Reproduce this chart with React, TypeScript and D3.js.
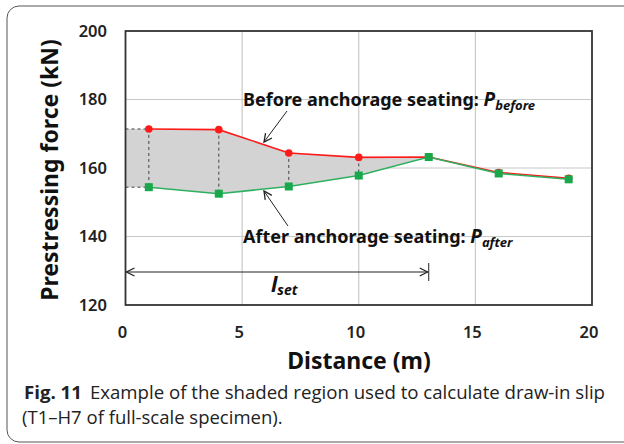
import React, { useEffect, useRef } from "react";
import * as d3 from "d3";

const distance = [1, 4, 7, 10, 13, 16, 19];
const before = [171.4, 171.2, 164.4, 163.1, 163.2, 158.7, 157.0];
const after = [154.4, 152.5, 154.6, 157.8, 163.2, 158.4, 156.7];
const xTicks = [0, 5, 10, 15, 20];
const yTicks = [120, 140, 160, 180, 200];
const lSet = 13;

export default function App() {
  const ref = useRef<SVGSVGElement>(null);

  useEffect(() => {
    const svg = d3.select(ref.current);
    svg.selectAll("*").remove();

    const x = d3.scaleLinear().domain([0, 20]).range([125.5, 592]);
    const y = d3.scaleLinear().domain([120, 200]).range([305, 31]);
    const font = "'Noto Sans', sans-serif";

    // outer frame
    svg.append("rect").attr("x", 7).attr("y", 6).attr("width", 640).attr("height", 436)
      .attr("rx", 12).attr("fill", "none").attr("stroke", "#555").attr("stroke-width", 1);

    const defs = svg.append("defs");
    defs.append("marker").attr("id", "arr").attr("viewBox", "0 0 10 10").attr("refX", 9).attr("refY", 5)
      .attr("markerWidth", 10).attr("markerHeight", 10).attr("orient", "auto-start-reverse")
      .attr("markerUnits", "userSpaceOnUse")
      .append("path").attr("d", "M1,1 L9,5 L1,9").attr("fill", "none").attr("stroke", "#222").attr("stroke-width", 1.3);

    // grid
    svg.append("g").selectAll("line").data(yTicks.slice(1, -1)).join("line")
      .attr("x1", x(0)).attr("x2", x(20)).attr("y1", d => y(d)).attr("y2", d => y(d))
      .attr("stroke", "#c8c8c8").attr("stroke-width", 1.2);
    svg.append("g").selectAll("line").data(xTicks.slice(1, -1)).join("line")
      .attr("y1", y(120)).attr("y2", y(200)).attr("x1", d => x(d)).attr("x2", d => x(d))
      .attr("stroke", "#c8c8c8").attr("stroke-width", 1.2);

    // shaded region between the two curves up to l_set
    const idx = distance.map((d, i) => i).filter(i => distance[i] <= lSet);
    const areaPts = [{ d: 0, b: before[0], a: after[0] }, ...idx.map(i => ({ d: distance[i], b: before[i], a: after[i] }))];
    svg.append("path").datum(areaPts)
      .attr("d", d3.area<any>().x(p => x(p.d)).y0(p => y(p.a)).y1(p => y(p.b)))
      .attr("fill", "#d3d3d3");

    // dashed guides
    const dash = svg.append("g").attr("stroke", "#444").attr("stroke-width", 1).attr("stroke-dasharray", "3,3");
    [before[0], after[0]].forEach(v => {
      dash.append("line").attr("x1", x(0)).attr("x2", x(distance[0])).attr("y1", y(v)).attr("y2", y(v));
    });
    idx.slice(0, -1).forEach(i => {
      dash.append("line").attr("x1", x(distance[i])).attr("x2", x(distance[i]))
        .attr("y1", y(before[i])).attr("y2", y(after[i]));
    });

    // lines
    const line = d3.line<number>().x((_, i) => x(distance[i])).y(v => y(v));
    svg.append("path").datum(before).attr("d", line).attr("fill", "none").attr("stroke", "#ff1a1a").attr("stroke-width", 1.6);
    svg.append("path").datum(after).attr("d", line).attr("fill", "none").attr("stroke", "#2fb060").attr("stroke-width", 1.6);
    svg.append("g").selectAll("circle").data(before).join("circle")
      .attr("cx", (_, i) => x(distance[i])).attr("cy", d => y(d)).attr("r", 3.8).attr("fill", "#ff1a1a");
    svg.append("g").selectAll("rect").data(after).join("rect")
      .attr("x", (_, i) => x(distance[i]) - 4).attr("y", d => y(d) - 4).attr("width", 8).attr("height", 8)
      .attr("fill", "#18a84c");

    // plot border
    svg.append("rect").attr("x", x(0)).attr("y", y(200)).attr("width", x(20) - x(0)).attr("height", y(120) - y(200))
      .attr("fill", "none").attr("stroke", "#333").attr("stroke-width", 1.8);

    // ticks
    svg.append("g").selectAll("text").data(yTicks).join("text")
      .attr("x", 107).attr("y", d => y(d)).attr("dy", "0.35em").attr("text-anchor", "end")
      .attr("font-family", font).attr("font-size", 16.5).attr("font-weight", 600).attr("fill", "#222")
      .text(d => d);
    svg.append("g").selectAll("text").data(xTicks).join("text")
      .attr("x", d => x(d) - 3).attr("y", 332).attr("dy", "0.35em").attr("text-anchor", "middle")
      .attr("font-family", font).attr("font-size", 16.5).attr("font-weight", 600).attr("fill", "#222")
      .text(d => d);

    // axis titles
    svg.append("text").attr("x", 359).attr("y", 369).attr("text-anchor", "middle")
      .attr("font-family", font).attr("font-size", 23).attr("font-weight", "bold").attr("fill", "#111")
      .text("Distance (m)");
    svg.append("text").attr("transform", "translate(58,170) rotate(-90)").attr("text-anchor", "middle")
      .attr("font-family", font).attr("font-size", 23).attr("font-weight", "bold").attr("fill", "#111")
      .text("Prestressing force (kN)");

    // annotations
    const ann = (tx: number, ty: number, label: string, sub: string) => {
      const t = svg.append("text").attr("x", tx).attr("y", ty)
        .attr("font-family", font).attr("font-size", 18).attr("font-weight", "bold").attr("fill", "#111");
      t.append("tspan").text(label + " ");
      t.append("tspan").attr("font-style", "italic").attr("font-size", 19).text("P");
      t.append("tspan").attr("font-style", "italic").attr("font-size", 13).attr("dy", 4).text(sub);
    };
    ann(243, 106, "Before anchorage seating:", "before");
    ann(243, 243, "After anchorage seating:", "after");

    svg.append("line").attr("x1", 287).attr("y1", 111).attr("x2", 264).attr("y2", 142)
      .attr("stroke", "#222").attr("stroke-width", 1).attr("marker-end", "url(#arr)");
    svg.append("line").attr("x1", 288).attr("y1", 226).attr("x2", 264).attr("y2", 191)
      .attr("stroke", "#222").attr("stroke-width", 1).attr("marker-end", "url(#arr)");

    // l_set dimension
    const ly = 272;
    svg.append("line").attr("x1", x(0) + 1).attr("x2", x(lSet) - 1).attr("y1", ly).attr("y2", ly)
      .attr("stroke", "#222").attr("stroke-width", 1)
      .attr("marker-start", "url(#arr)").attr("marker-end", "url(#arr)");
    svg.append("line").attr("x1", x(lSet)).attr("x2", x(lSet)).attr("y1", ly - 9).attr("y2", ly + 9)
      .attr("stroke", "#222").attr("stroke-width", 1);
    const ls = svg.append("text").attr("x", 271).attr("y", 292)
      .attr("font-family", font).attr("font-weight", "bold").attr("font-style", "italic").attr("fill", "#111");
    ls.append("tspan").attr("font-size", 21).text("l");
    ls.append("tspan").attr("font-size", 14).attr("dy", 3).text("set");

    // caption
    const cap = svg.append("text").attr("x", 24).attr("y", 399).attr("textLength", 581).attr("lengthAdjust", "spacingAndGlyphs")
      .attr("font-family", "'Open Sans', sans-serif").attr("font-size", 18.5).attr("fill", "#222");
    cap.append("tspan").attr("font-weight", "bold").text("Fig. 11");
    cap.append("tspan").attr("dx", 8).text("Example of the shaded region used to calculate draw-in slip");
    svg.append("text").attr("x", 22).attr("y", 424)
      .attr("font-family", "'Open Sans', sans-serif").attr("font-size", 18.5).attr("fill", "#222")
      .text("(T1–H7 of full-scale specimen).");
  }, []);

  return (
    <svg ref={ref} width={624} height={444}
      style={{ position: "absolute", left: 0, top: 0, background: "#fff" }} />
  );
}
